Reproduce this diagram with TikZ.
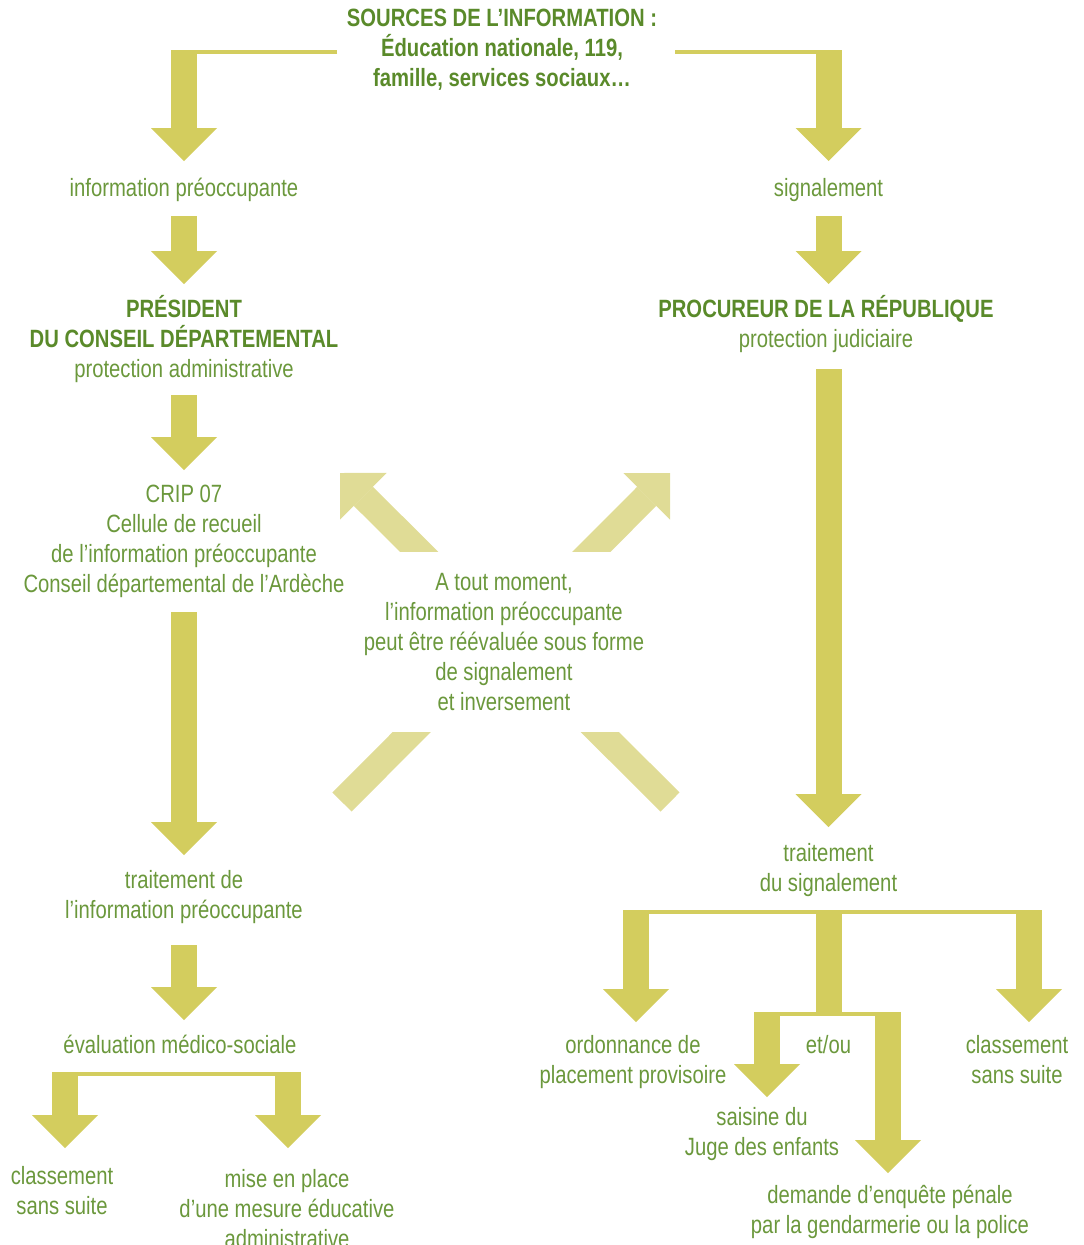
\documentclass[tikz,border=0pt]{standalone}
\usepackage{fontspec}
\setmainfont[FakeStretch=0.81]{Liberation Sans}
\usetikzlibrary{arrows.meta, calc}
\definecolor{leafgreen}{HTML}{6B983C}
\definecolor{leafdark}{HTML}{5A8A2A}
\definecolor{arrowolive}{HTML}{D3CD5E}
\definecolor{arrowpale}{HTML}{E0DC96}
\newcommand{\boldline}[1]{\textcolor{leafdark}{\bfseries #1}}

\begin{document}
\begin{tikzpicture}[x=1pt, y=-1pt, font=\fontsize{25}{30}\selectfont,
  lbl/.style={text=leafgreen, align=center, inner sep=0pt},
  bar/.style={arrowolive, line width=4pt},
  stem/.style={arrowolive, line width=26pt},
  fat/.style={stem, -{Triangle[length=33pt, width=66pt, line width'=0pt]}},
  pale/.style={arrowpale, line width=27pt, -{Triangle[length=33pt, width=66pt, line width'=0pt]}}]
  \path[use as bounding box, clip] (0,0) rectangle (1084,1245);

  \node[lbl, text=leafdark, font=\fontsize{25}{30}\selectfont\bfseries] (src) at (502,49.5)
    {SOURCES DE L’INFORMATION :\\Éducation nationale, 119,\\famille, services sociaux…};
  \node[lbl] (ip) at (184,190) {information préoccupante};
  \node[lbl] (sig) at (828.5,190) {signalement};
  \node[lbl] (pres) at (184,339)
    {\boldline{PRÉSIDENT}\\\boldline{DU CONSEIL DÉPARTEMENTAL}\\protection administrative};
  \node[lbl] (proc) at (826,324.5) {\boldline{PROCUREUR DE LA RÉPUBLIQUE}\\protection judiciaire};
  \node[lbl] (crip) at (184,541)
    {CRIP 07\\Cellule de recueil\\de l’information préoccupante\\Conseil départemental de l’Ardèche};
  \node[lbl] (trip) at (184,897.5) {traitement de\\l’information préoccupante};
  \node[lbl] (evms) at (180,1044) {évaluation médico-sociale};
  \node[lbl] (cls1) at (62,1191) {classement\\sans suite};
  \node[lbl] (mise) at (287,1209) {mise en place\\d’une mesure éducative\\administrative};
  \node[lbl] (trs) at (828.5,870) {traitement\\du signalement};
  \node[lbl] (ordo) at (633,1062) {ordonnance de\\placement provisoire};
  \node[lbl] (etou) at (828.5,1045) {et/ou};
  \node[lbl] (cls2) at (1017,1060) {classement\\sans suite};
  \node[lbl] (sais) at (762,1134) {saisine du\\Juge des enfants};
  \node[lbl] (enq) at (890,1212) {demande d’enquête pénale\\par la gendarmerie ou la police};

  % administrative side
  \draw[bar] ($(src)+(-165,2.5)$) -- ($(ip)+(-13,-138)$);
  \draw[fat] ($(ip)+(0,-140)$) -- ($(ip)+(0,-29)$);
  \draw[fat] ($(ip)+(0,26)$) -- ($(pres)+(0,-55)$);
  \draw[fat] ($(pres)+(0,56)$) -- ($(crip)+(0,-71)$);
  \draw[fat] ($(crip)+(0,71)$) -- ($(trip)+(0,-42.5)$);
  \draw[fat] ($(trip)+(0,47.5)$) -- ($(trip |- evms)+(0,-24)$);
  \draw[bar] ($(cls1)+(-10,-117)$) -- ($(mise)+(14,-135)$);
  \draw[fat] ($(cls1)+(3,-119)$) -- ($(cls1)+(3,-43)$);
  \draw[fat] ($(mise)+(1,-137)$) -- ($(mise)+(1,-61)$);

  % judicial side
  \draw[bar] ($(src)+(173,2.5)$) -- ($(sig)+(13.5,-138)$);
  \draw[fat] ($(sig)+(0,-140)$) -- ($(sig)+(0,-29)$);
  \draw[fat] ($(sig)+(0,26)$) -- ($(sig |- proc)+(0,-40.5)$);
  \draw[fat] ($(trs |- proc)+(0,44.5)$) -- ($(trs)+(0,-43)$);
  \draw[bar] ($(ordo)+(-10,-150)$) -- ($(cls2)+(25,-148)$);
  \draw[fat] ($(ordo)+(3,-152)$) -- ($(ordo)+(3,-40)$);
  \draw[fat] ($(cls2)+(12,-150)$) -- ($(cls2)+(12,-38)$);
  \draw[stem] ($(etou)+(0,-135)$) -- ($(etou)+(0,-33)$);
  \draw[bar] ($(sais)+(-8,-120)$) -- ($(enq)+(11,-198)$);
  \draw[fat] ($(sais)+(5,-122)$) -- ($(sais)+(5,-37)$);
  \draw[fat] ($(enq)+(-2,-200)$) -- ($(enq)+(-2,-39)$);

  % crossing arrows behind the note
  \coordinate (mid) at (504,642);
  \draw[pale] ($(mid)+(166,160)$) -- ($(mid)+(-164,-169)$);
  \draw[pale] ($(mid)+(-162,160)$) -- ($(mid)+(166,-169)$);
  \node[lbl, fill=white, minimum width=300pt, minimum height=180pt] (moment) at (mid)
    {A tout moment,\\l’information préoccupante\\peut être réévaluée sous forme\\de signalement\\et inversement};
\end{tikzpicture}
\end{document}
